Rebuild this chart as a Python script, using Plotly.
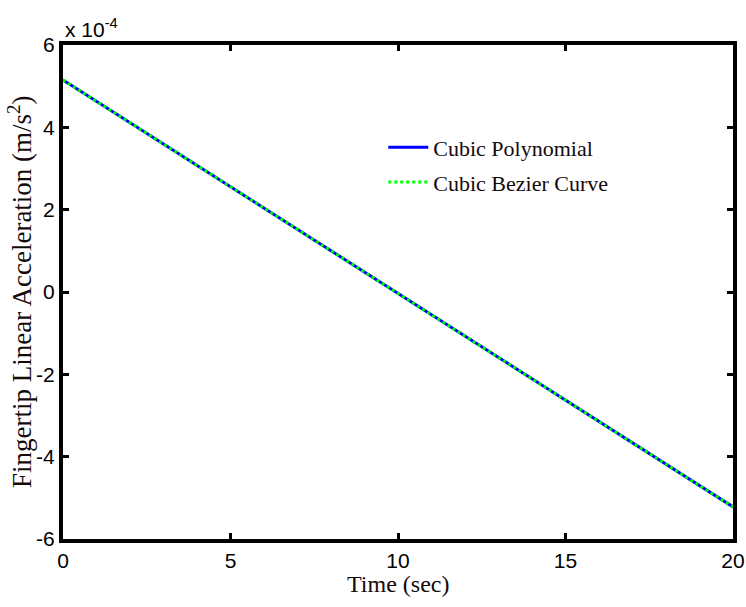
import plotly.graph_objects as go

# Fingertip linear acceleration over time (values in units of 1e-4 m/s^2)
time_sec = [0, 5, 10, 15, 20]
accel_poly = [5.15, 2.56, -0.03, -2.62, -5.22]
accel_bezier = [5.15, 2.56, -0.03, -2.62, -5.22]

x_ticks = [0, 5, 10, 15, 20]
y_ticks = [-6, -4, -2, 0, 2, 4, 6]

serif = "Liberation Serif, Times New Roman, serif"
sans = "Liberation Sans, Arial, sans-serif"
text_color = "#140a0a"

fig = go.Figure()
fig.add_trace(go.Scatter(
    x=time_sec, y=accel_poly, mode="lines", name="Cubic Polynomial",
    legendgroup="poly", line=dict(color="#0000ff", width=3),
))
fig.add_trace(go.Scatter(
    x=time_sec, y=accel_bezier, mode="lines", name="Cubic Bezier Curve",
    legendgroup="bezier", line=dict(color="#00ff00", width=3, dash="dot"),
))

axis_common = dict(
    showgrid=False, zeroline=False, showline=True, linecolor="black",
    linewidth=4, mirror="ticks", ticks="inside", ticklen=6, tickwidth=3,
    tickcolor="black", tickfont=dict(family=sans, size=21, color="black"),
    automargin=False,
)

fig.update_layout(
    width=746, height=607,
    margin=dict(l=63, r=13, t=45, b=68),
    paper_bgcolor="white", plot_bgcolor="white",
    xaxis=dict(range=[0, 20], tickvals=x_ticks, ticktext=[str(v) for v in x_ticks],
               **axis_common),
    yaxis=dict(range=[-6, 6], tickvals=y_ticks, ticktext=[str(v) for v in y_ticks],
               **axis_common),
    legend=dict(x=0.478, y=0.835, xanchor="left", yanchor="top",
                bgcolor="rgba(0,0,0,0)", borderwidth=0,
                font=dict(family=serif, size=22, color=text_color),
                traceorder="grouped", tracegroupgap=3, itemwidth=40),
    showlegend=True,
    annotations=[
        dict(text="x 10<sup>-4</sup>", xref="paper", yref="paper", x=0.0, y=1.0,
             xanchor="left", yanchor="bottom", yshift=2, showarrow=False,
             font=dict(family=sans, size=21, color="black")),
        dict(text="Time (sec)", xref="paper", yref="paper", x=0.5, y=0.0,
             xanchor="center", yanchor="middle", yshift=-45, showarrow=False,
             font=dict(family=serif, size=24, color=text_color)),
        dict(text="Fingertip Linear Acceleration (m/s<sup>2</sup>)", xref="paper", yref="paper",
             x=0.0, y=0.5, xanchor="center", yanchor="middle", xshift=-43,
             textangle=-90, showarrow=False,
             font=dict(family=serif, size=27, color=text_color)),
    ],
)

fig.write_html("out.html")
